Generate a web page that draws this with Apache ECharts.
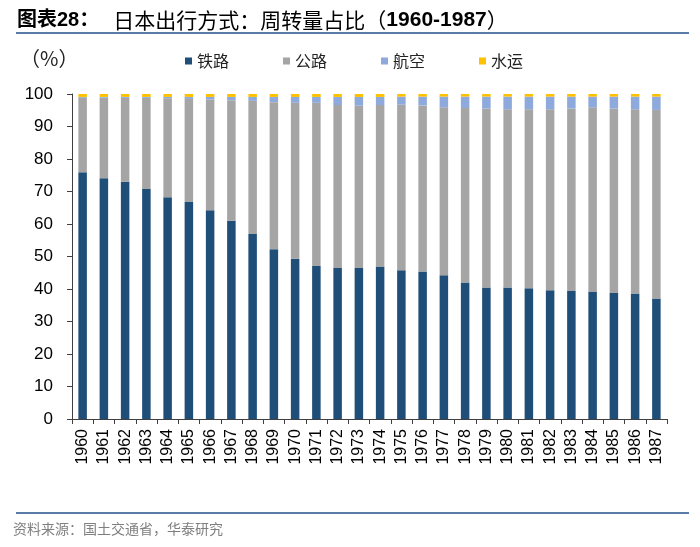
<!DOCTYPE html>
<html>
<head>
<meta charset="utf-8">
<script src="https://cdn.jsdelivr.net/npm/echarts@6/dist/echarts.min.js"></script>
<style>html,body{margin:0;padding:0;background:#fff;}#c{width:700px;height:547px;}</style>
</head>
<body>
<div id="c"></div>
<script>
var years = ['1960','1961','1962','1963','1964','1965','1966','1967','1968','1969','1970','1971','1972','1973','1974','1975','1976','1977','1978','1979','1980','1981','1982','1983','1984','1985','1986','1987'];
var rail  = [75.9,74.1,73.0,70.8,68.2,66.8,64.2,61.0,56.9,52.2,49.3,47.1,46.5,46.5,46.9,45.8,45.4,44.2,42.0,40.5,40.5,40.2,39.6,39.4,39.2,38.8,38.6,37.1];
var road  = [23.1,24.8,25.8,28.0,30.5,31.7,34.1,37.1,41.0,45.3,48.0,50.2,50.1,49.9,49.7,50.9,51.1,51.7,53.7,55.0,54.8,55.1,55.7,56.1,56.7,56.7,56.7,58.0];
var air   = [0.1,0.2,0.3,0.3,0.4,0.6,0.8,1.0,1.2,1.6,1.8,1.8,2.5,2.7,2.5,2.5,2.7,3.3,3.5,3.7,3.9,3.9,3.9,3.7,3.3,3.7,3.9,4.1];
var water = [0.9,0.9,0.9,0.9,0.9,0.9,0.9,0.9,0.9,0.9,0.9,0.9,0.9,0.9,0.9,0.8,0.8,0.8,0.8,0.8,0.8,0.8,0.8,0.8,0.8,0.8,0.8,0.8];
var yTicks = [0,10,20,30,40,50,60,70,80,90,100];
var seriesNames = ['铁路','公路','航空','水运'];
var colors = ['#1F4E79','#A5A5A5','#8EA9DB','#FFC000'];

var chart = echarts.init(document.getElementById('c'), null, {renderer:'canvas'});
var cjk = '"Noto Sans CJK SC", sans-serif';
var lat = '"Liberation Sans", Arial, sans-serif';
var dataSets = [rail, road, air, water];
var series = seriesNames.map(function(n, i){
  return {
    name: n, type: 'bar', stack: 'total', data: dataSets[i],
    barWidth: 8.5,
    itemStyle: {color: colors[i]},
    emphasis: {disabled: true}
  };
});
chart.setOption({
  animation: false,
  backgroundColor: '#fff',
  color: colors,
  grid: {left: 72, right: 33, top: 94, bottom: 128, containLabel: false},
  legend: {
    data: seriesNames, left: 180, top: 48, icon: 'rect', itemWidth: 7, itemHeight: 7,
    itemGap: 54, textStyle: {fontSize: 16, color: '#222', fontFamily: cjk}
  },
  xAxis: {
    type: 'category', data: years,
    axisLine: {lineStyle: {color: '#404040', width: 1}},
    axisTick: {show: true, alignWithLabel: false, length: 5, lineStyle: {color: '#404040'}},
    axisLabel: {rotate: 90, fontSize: 16, color: '#000', fontFamily: lat, margin: 10, interval: 0}
  },
  yAxis: {
    type: 'value', min: yTicks[0], max: yTicks[yTicks.length-1], interval: 10,
    axisLine: {show: true, lineStyle: {color: '#404040', width: 1}},
    axisTick: {show: true, length: 5, lineStyle: {color: '#404040'}},
    splitLine: {show: false},
    axisLabel: {fontSize: 17, color: '#000', fontFamily: lat, margin: 19}
  },
  series: series,
  graphic: [
    {type: 'text', left: 17, top: 10, style: {
      text: '{a|图表28：}{b|   日本出行方式：周转量占比（}{c|1960-1987}{b|）}',
      rich: {
        a: {fontSize: 20, fontWeight: 'bold', fontFamily: lat + ',' + cjk, fill: '#000'},
        b: {fontSize: 21, fontWeight: 'normal', fontFamily: cjk, fill: '#000'},
        c: {fontSize: 21, fontWeight: 'bold', fontFamily: lat, fill: '#000'}
      }
    }},
    {type: 'line', shape: {x1: 16, y1: 33, x2: 689, y2: 33}, style: {stroke: '#5B7BA9', lineWidth: 2}},
    {type: 'text', left: 20, top: 48, style: {text: '（%）', fontSize: 20, fill: '#222', fontFamily: cjk}},
    {type: 'line', shape: {x1: 16, y1: 513, x2: 689, y2: 513}, style: {stroke: '#5B7BA9', lineWidth: 2}},
    {type: 'text', left: 13, top: 522, style: {text: '资料来源：国土交通省，华泰研究', fontSize: 14, fill: '#7f7f7f', fontFamily: cjk}}
  ]
});
</script>
</body>
</html>
